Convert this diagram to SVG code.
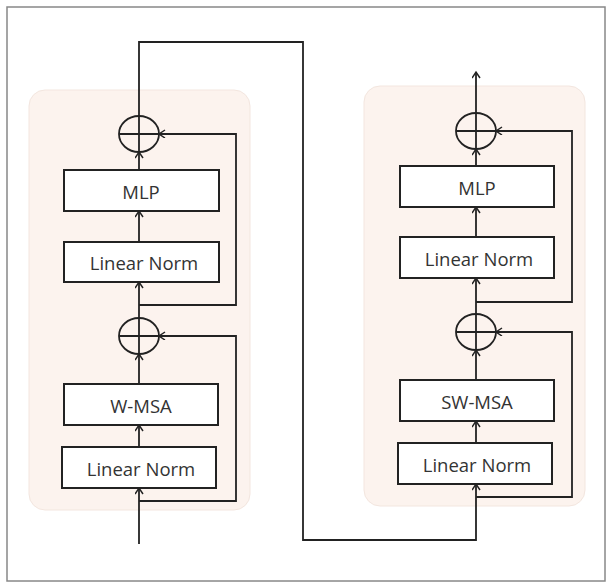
<svg xmlns="http://www.w3.org/2000/svg" width="610" height="582" viewBox="0 0 610 582">
<defs>
<marker id="ah" markerWidth="10" markerHeight="10" refX="7" refY="4" orient="auto" markerUnits="userSpaceOnUse">
<path d="M1,0 L7,4 L1,8" fill="none" stroke="#222" stroke-width="1.5"/>
</marker>
<style>
.panel{fill:#fcf3ee;stroke:#f3e6df;stroke-width:1}
.box{fill:#fff;stroke:#222;stroke-width:2}
.lbl{font-family:"Open Sans","Liberation Sans",sans-serif;font-size:18.5px;fill:#333;text-anchor:middle;dominant-baseline:central}
.ln{fill:none;stroke:#222;stroke-width:1.8}
.sum{fill:none;stroke:#222;stroke-width:1.8}
</style>
</defs>
<rect x="0" y="0" width="610" height="582" fill="#fff"/>
<rect x="7" y="7" width="598" height="574" fill="none" stroke="#888" stroke-width="1.5"/>
<rect class="panel" x="29" y="90" width="221" height="420" rx="16"/>
<rect class="panel" x="364" y="86" width="221" height="420" rx="16"/>

<g id="connectors">
<path class="ln" d="M139,544 L139,488" marker-end="url(#ah)"/>
<path class="ln" d="M139,447 L139,425" marker-end="url(#ah)"/>
<path class="ln" d="M139,384 L139,354" marker-end="url(#ah)"/>
<path class="ln" d="M139,501 L236,501 L236,336 L159,336" marker-end="url(#ah)"/>
<path class="ln" d="M139,318 L139,282" marker-end="url(#ah)"/>
<path class="ln" d="M139,242 L139,211" marker-end="url(#ah)"/>
<path class="ln" d="M139,170 L139,152" marker-end="url(#ah)"/>
<path class="ln" d="M139,305 L236,305 L236,134 L159,134" marker-end="url(#ah)"/>
<path class="ln" d="M139,116 L139,42 L303,42 L303,540 L476,540 L476,484" marker-end="url(#ah)"/>
<path class="ln" d="M476,443 L476,421" marker-end="url(#ah)"/>
<path class="ln" d="M476,380 L476,350" marker-end="url(#ah)"/>
<path class="ln" d="M476,497 L572,497 L572,332 L496,332" marker-end="url(#ah)"/>
<path class="ln" d="M476,314 L476,278" marker-end="url(#ah)"/>
<path class="ln" d="M476,237 L476,207" marker-end="url(#ah)"/>
<path class="ln" d="M476,166 L476,149" marker-end="url(#ah)"/>
<path class="ln" d="M476,302 L572,302 L572,131 L496,131" marker-end="url(#ah)"/>
<path class="ln" d="M476,113 L476,72" marker-end="url(#ah)"/>
</g>

<g id="left-add-top"><ellipse class="sum" cx="139" cy="134" rx="20" ry="18"/><path class="ln" d="M119,134 H159 M139,116 V152"/></g>
<g id="left-mlp"><rect class="box" x="64" y="170" width="155" height="41"/><text class="lbl" x="141" y="191">MLP</text></g>
<g id="left-norm2"><rect class="box" x="64" y="242" width="155" height="40"/><text class="lbl" x="144" y="262">Linear Norm</text></g>
<g id="left-add-bottom"><ellipse class="sum" cx="139" cy="336" rx="20" ry="18"/><path class="ln" d="M119,336 H159 M139,318 V354"/></g>
<g id="left-wmsa"><rect class="box" x="64" y="384" width="154" height="41"/><text class="lbl" x="141" y="405">W-MSA</text></g>
<g id="left-norm1"><rect class="box" x="62" y="447" width="154" height="41"/><text class="lbl" x="141" y="468">Linear Norm</text></g>

<g id="right-add-top"><ellipse class="sum" cx="476" cy="131" rx="20" ry="18"/><path class="ln" d="M456,131 H496 M476,113 V149"/></g>
<g id="right-mlp"><rect class="box" x="400" y="166" width="154" height="41"/><text class="lbl" x="477" y="187">MLP</text></g>
<g id="right-norm2"><rect class="box" x="400" y="237" width="154" height="41"/><text class="lbl" x="479" y="258">Linear Norm</text></g>
<g id="right-add-bottom"><ellipse class="sum" cx="476" cy="332" rx="20" ry="18"/><path class="ln" d="M456,332 H496 M476,314 V350"/></g>
<g id="right-swmsa"><rect class="box" x="400" y="380" width="154" height="41"/><text class="lbl" x="477" y="401">SW-MSA</text></g>
<g id="right-norm1"><rect class="box" x="398" y="443" width="154" height="41"/><text class="lbl" x="477" y="464">Linear Norm</text></g>
</svg>
